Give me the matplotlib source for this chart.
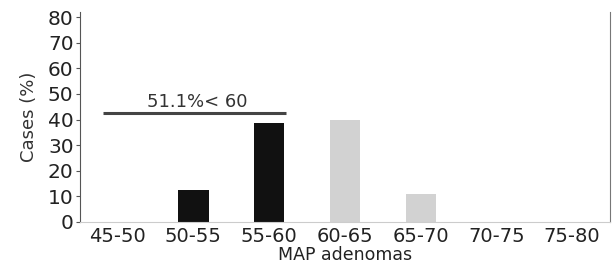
import numpy as np
import matplotlib
matplotlib.use("Agg")
import matplotlib.pyplot as plt

categories = ["45-50", "50-55", "55-60", "60-65", "65-70", "70-75", "75-80"]
cases_pct = [0, 12.5, 38.5, 40, 11, 0, 0]
bar_colors = ["#111111", "#111111", "#111111", "#d2d2d2", "#d2d2d2", "#d2d2d2", "#d2d2d2"]
y_ticks = [0, 10, 20, 30, 40, 50, 60, 70, 80]
bracket_level = 42.5
bracket_text = "51.1%< 60"

plt.rcParams['font.family'] = ['DejaVu Sans']

fig = plt.figure(figsize=(6.14, 2.69), dpi=100)
ax = fig.add_axes([0.130, 0.175, 0.8635, 0.78])

x = np.arange(len(categories))
ax.bar(x, cases_pct, width=0.4, color=bar_colors)

# bracket over the < 60 groups
ax.plot([-0.2, 2.22], [bracket_level, bracket_level], color="#444444", lw=2.2, solid_capstyle="butt")
ax.text(1.05, bracket_level + 1.0, bracket_text, ha="center", va="bottom", fontsize=13, color="#333333")

ax.set_xlim(-0.5, 6.5)
ax.set_ylim(0, 82)
ax.set_xticks(x)
ax.set_xticklabels(categories, fontsize=14, color="#222222")
ax.set_yticks(y_ticks)
ax.set_yticklabels([str(v) for v in y_ticks], fontsize=14.5, color="#222222")
ax.tick_params(axis="x", length=0, pad=4)
ax.tick_params(axis="y", length=3, pad=1.5, color="#555555")

ax.set_xlabel("MAP adenomas", fontsize=12.5, color="#222222", labelpad=0)
ax.set_ylabel("Cases (%)", fontsize=13, color="#333333", labelpad=7)

ax.spines["top"].set_visible(False)
ax.spines["left"].set_color("#555555")
ax.spines["right"].set_color("#777777")
ax.spines["bottom"].set_color("#cccccc")

fig.savefig("out.png", dpi=100)
